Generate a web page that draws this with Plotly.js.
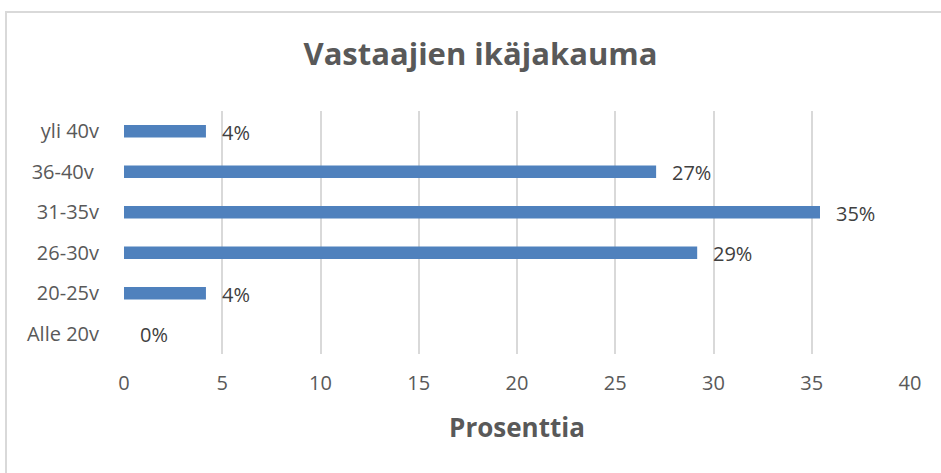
<!DOCTYPE html>
<html>
<head>
<meta charset="utf-8">
<script src="https://cdn.plot.ly/plotly-3.0.1.min.js"></script>
<style>
html,body{margin:0;padding:0;background:#fff;}
#frame{position:absolute;left:5px;top:11px;width:940px;height:470px;border-top:2px solid #d9d9d9;border-left:2px solid #d9d9d9;}
#chart{position:absolute;left:0;top:0;width:941px;height:473px;}
</style>
</head>
<body>
<div id="frame"></div>
<div id="chart"></div>
<script>
const categories = ["Alle 20v", "20-25v", "26-30v", "31-35v", "36-40v ", "yli 40v"];
const values = [0, 4.17, 29.17, 35.42, 27.08, 4.17];
const labels = ["0%", "4%", "29%", "35%", "27%", "4%"];

const trace = {
  type: "bar",
  orientation: "h",
  x: values,
  y: categories,
  width: 0.31,
  marker: {color: "#4f81bd", line: {width: 0}},
  hoverinfo: "none"
};

const annotations = categories.map((c, i) => ({
  x: values[i], y: c, xref: "x", yref: "y",
  text: labels[i], showarrow: false,
  xanchor: "left", yanchor: "middle", xshift: 14, yshift: -1,
  font: {family: "Open Sans, sans-serif", size: 20, color: "#404040"}
}));

const layout = {
  width: 941, height: 473,
  margin: {l: 124, r: 31, t: 111, b: 119, pad: 0},
  paper_bgcolor: "rgba(0,0,0,0)",
  plot_bgcolor: "rgba(0,0,0,0)",
  showlegend: false,
  title: {
    text: "<b>Vastaajien ikäjakauma</b>",
    x: 0.5106, xanchor: "center", y: 0.885, yanchor: "middle",
    font: {family: "Open Sans, sans-serif", size: 31, color: "#595959"}
  },
  xaxis: {
    range: [0, 40], dtick: 5, tick0: 0,
    showgrid: true, gridcolor: "#d9d9d9", gridwidth: 2,
    zeroline: false, showline: false,
    ticks: "outside", ticklen: 11, tickcolor: "rgba(0,0,0,0)",
    tickfont: {family: "Open Sans, sans-serif", size: 20, color: "#595959"},
    title: {text: "<b>Prosenttia</b>", standoff: 23,
      font: {family: "Open Sans, sans-serif", size: 26, color: "#595959"}},
    fixedrange: true
  },
  yaxis: {
    type: "category",
    categoryorder: "array", categoryarray: categories,
    showgrid: false, zeroline: false, showline: false,
    ticks: "outside", ticklen: 20, tickcolor: "rgba(0,0,0,0)",
    tickfont: {family: "Open Sans, sans-serif", size: 20, color: "#595959"},
    fixedrange: true
  },
  annotations: annotations
};

Plotly.newPlot("chart", [trace], layout, {displayModeBar: false, staticPlot: true});
</script>
</body>
</html>
